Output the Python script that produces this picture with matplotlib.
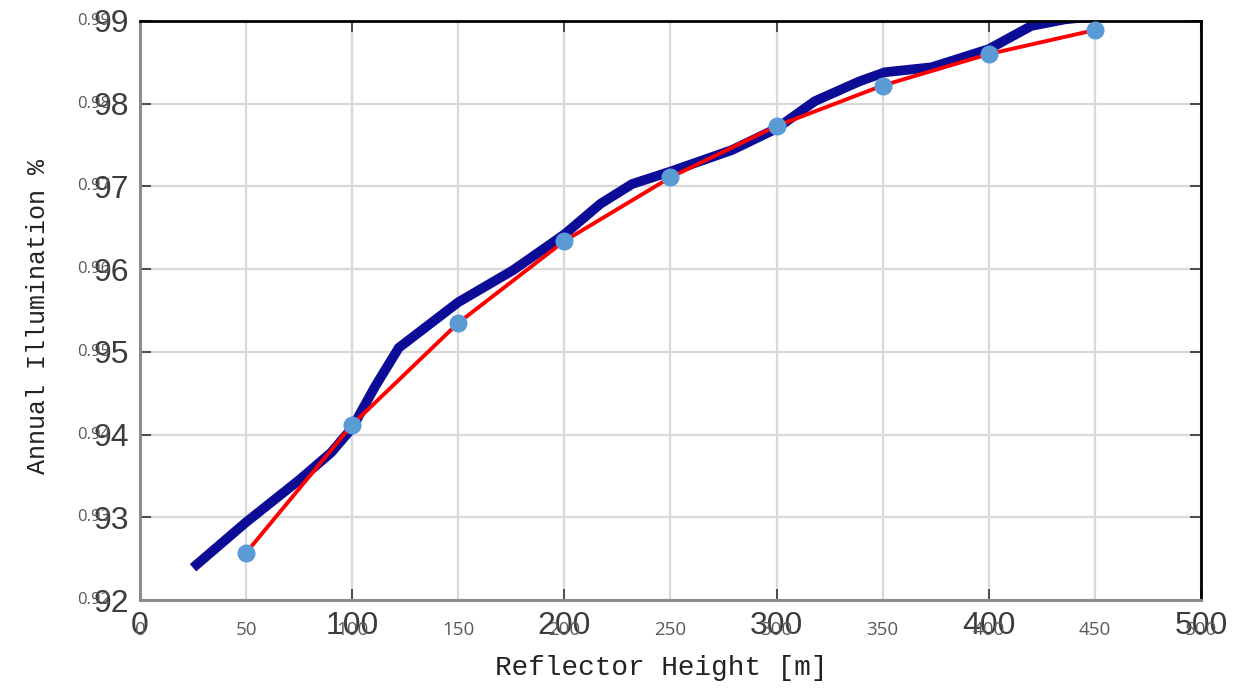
import matplotlib.pyplot as plt

# measured points (red line with dots)
height = [50, 100, 150, 200, 250, 300, 350, 400, 450]
illum = [92.57, 94.12, 95.35, 96.34, 97.11, 97.73, 98.22, 98.60, 98.89]

# simulated curve (thick navy line)
sim_height = [25, 50, 75, 90, 100, 111, 122, 150, 176, 200, 217, 232, 250,
              279, 300, 318, 339, 351, 373, 400, 420, 436, 448]
sim_illum = [92.39, 92.94, 93.45, 93.78, 94.08, 94.59, 95.05, 95.60, 95.99,
             96.42, 96.79, 97.03, 97.18, 97.44, 97.70, 98.03, 98.27, 98.38,
             98.44, 98.66, 98.94, 99.02, 99.05]

x_major = [0, 100, 200, 300, 400, 500]
x_small = [0, 50, 100, 150, 200, 250, 300, 350, 400, 450, 500]
y_ticks = [92, 93, 94, 95, 96, 97, 98, 99]
y_small = ["0.92", "0.93", "0.94", "0.95", "0.96", "0.97", "0.98", "0.99"]

fig = plt.figure(figsize=(12.43, 6.88), dpi=100)
ax = fig.add_axes([0.1126, 0.1279, 0.8536, 0.8416])

ax.plot(sim_height, sim_illum, color="#0c0c96", lw=7, solid_capstyle="butt", zorder=2)
ax.plot(height, illum, color="red", lw=2.8, zorder=3)
ax.plot(height, illum, "o", color="#5b9bd5", ms=12, zorder=4)

ax.set_xlim(0, 500)
ax.set_ylim(92, 99)
ax.set_xticks(x_major)
ax.set_xticks(x_small, minor=True)
ax.set_yticks(y_ticks)
ax.grid(which="both", color="#d9d9d9", lw=1.6)
ax.set_axisbelow(True)

ax.tick_params(which="major", direction="in", length=8, width=1.2, top=True, right=True,
               color="#333333", labelcolor="#3c3c3c", labelsize=23, pad=8)
ax.tick_params(which="minor", length=0)
for lbl in ax.get_xticklabels() + ax.get_yticklabels():
    lbl.set_family("Liberation Sans")

for side in ["left", "bottom"]:
    ax.spines[side].set_color("#8c8c8c")
    ax.spines[side].set_linewidth(2.2)
for side in ["top", "right"]:
    ax.spines[side].set_color("black")
    ax.spines[side].set_linewidth(2)

# second, smaller set of tick labels laid over the first
for xv in x_small:
    ax.text(xv, -0.052, str(xv), transform=ax.get_xaxis_transform(), ha="center",
            va="center", fontsize=13.5, family="Open Sans", color="#595959")
for yv, s in zip(y_ticks, y_small):
    ax.text(-0.028, yv, s, transform=ax.get_yaxis_transform(), ha="right",
            va="center", fontsize=12, family="Open Sans", color="#595959")

fig.text(661.5 / 1243, 1 - 668 / 688, "Reflector Height [m]", ha="center", va="center",
         fontsize=20, family="Liberation Mono", color="#222222")
fig.text(38 / 1243, 1 - 317 / 688, "Annual Illumination %", ha="center", va="center",
         rotation=90, fontsize=18, family="Liberation Mono", color="#222222")

plt.savefig("out.png", dpi=100)
